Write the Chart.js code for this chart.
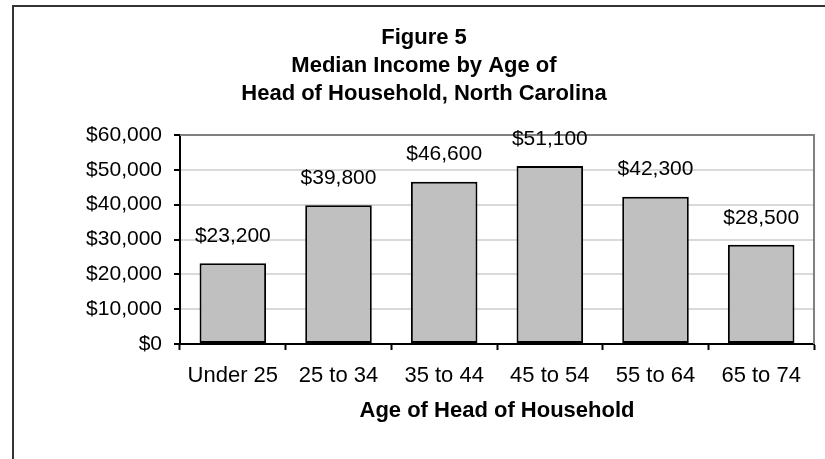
<!DOCTYPE html>
<html>
<head>
<meta charset="utf-8">
<script src="https://cdn.jsdelivr.net/npm/chart.js@4/dist/chart.umd.min.js"></script>
<style>
    html, body { margin: 0; padding: 0; background: #fff; overflow: hidden; }
    #wrap { position: relative; width: 825px; height: 459px; }
    #frame {
        position: absolute; left: 12px; top: 5px; right: -20px; bottom: -20px;
        border: 2px solid #333;
    }
    canvas { position: absolute; left: 0; top: 0; }
</style>
</head>
<body>
<div id="wrap">
    <div id="frame"></div>
    <canvas id="income-chart" width="825" height="459"></canvas>
</div>
<script>
const ageGroups = ['Under 25', '25 to 34', '35 to 44', '45 to 54', '55 to 64', '65 to 74'];
const medianIncome = [23200, 39800, 46600, 51100, 42300, 28500];
const titleLines = ['Figure 5', 'Median Income by Age of', 'Head of Household, North Carolina'];
const axisTitle = 'Age of Head of Household';

const fontFamily = "'Liberation Sans', Arial, Helvetica, sans-serif";
const dollars = (v) => '$' + Number(v).toLocaleString('en-US');

Chart.defaults.font.family = fontFamily;
Chart.defaults.color = '#000';

// grey frame on top/right of the plot area
const plotFrame = {
    id: 'plotFrame',
    beforeDatasetsDraw(chart) {
        const { ctx, chartArea: a } = chart;
        ctx.save();
        ctx.strokeStyle = '#808080';
        ctx.lineWidth = 2;
        ctx.beginPath();
        ctx.moveTo(a.left, a.top);
        ctx.lineTo(a.right, a.top);
        ctx.lineTo(a.right, a.bottom);
        ctx.stroke();
        ctx.restore();
    },
};

// value labels above each bar
const valueLabels = {
    id: 'valueLabels',
    afterDatasetsDraw(chart) {
        const { ctx } = chart;
        const meta = chart.getDatasetMeta(0);
        ctx.save();
        ctx.font = '21px ' + fontFamily;
        ctx.fillStyle = '#000';
        ctx.textAlign = 'center';
        ctx.textBaseline = 'middle';
        meta.data.forEach((bar, i) => {
            ctx.fillText(dollars(medianIncome[i]), bar.x, bar.y - 27);
        });
        ctx.restore();
    },
};

new Chart(document.getElementById('income-chart'), {
    type: 'bar',
    data: {
        labels: ageGroups,
        datasets: [{
            data: medianIncome,
            backgroundColor: '#c0c0c0',
            borderColor: '#000',
            borderWidth: 2,
            borderSkipped: false,
            categoryPercentage: 1,
            barPercentage: 0.63,
        }],
    },
    options: {
        responsive: false,
        animation: false,
        layout: { padding: { top: 0, left: 34, right: 11, bottom: 35 } },
        plugins: {
            legend: { display: false },
            tooltip: { enabled: false },
            title: {
                display: true,
                text: titleLines,
                color: '#000',
                font: { size: 22, weight: 'bold', lineHeight: '28px' },
                padding: { top: 24, bottom: 27 },
            },
        },
        scales: {
            x: {
                offset: true,
                border: { color: '#000', width: 2 },
                grid: {
                    offset: true,
                    drawOnChartArea: false,
                    tickLength: 6,
                    tickColor: '#000',
                    tickWidth: 2,
                },
                ticks: { font: { size: 22 }, padding: 13, color: '#000' },
                title: {
                    display: true,
                    text: axisTitle,
                    color: '#000',
                    font: { size: 22, weight: 'bold' },
                    padding: { top: 10, bottom: 0 },
                },
                afterFit(scale) { scale.height = 80; },
            },
            y: {
                min: 0,
                max: 60000,
                border: { color: '#000', width: 2 },
                grid: {
                    color: '#d9d9d9',
                    lineWidth: 2,
                    tickLength: 6,
                    tickColor: '#000',
                    tickWidth: 2,
                },
                ticks: {
                    stepSize: 10000,
                    padding: 12,
                    font: { size: 21 },
                    color: '#000',
                    callback: (v) => dollars(v),
                },
                afterFit(scale) { scale.width = 146; },
            },
        },
    },
    plugins: [plotFrame, valueLabels],
});
</script>
</body>
</html>
